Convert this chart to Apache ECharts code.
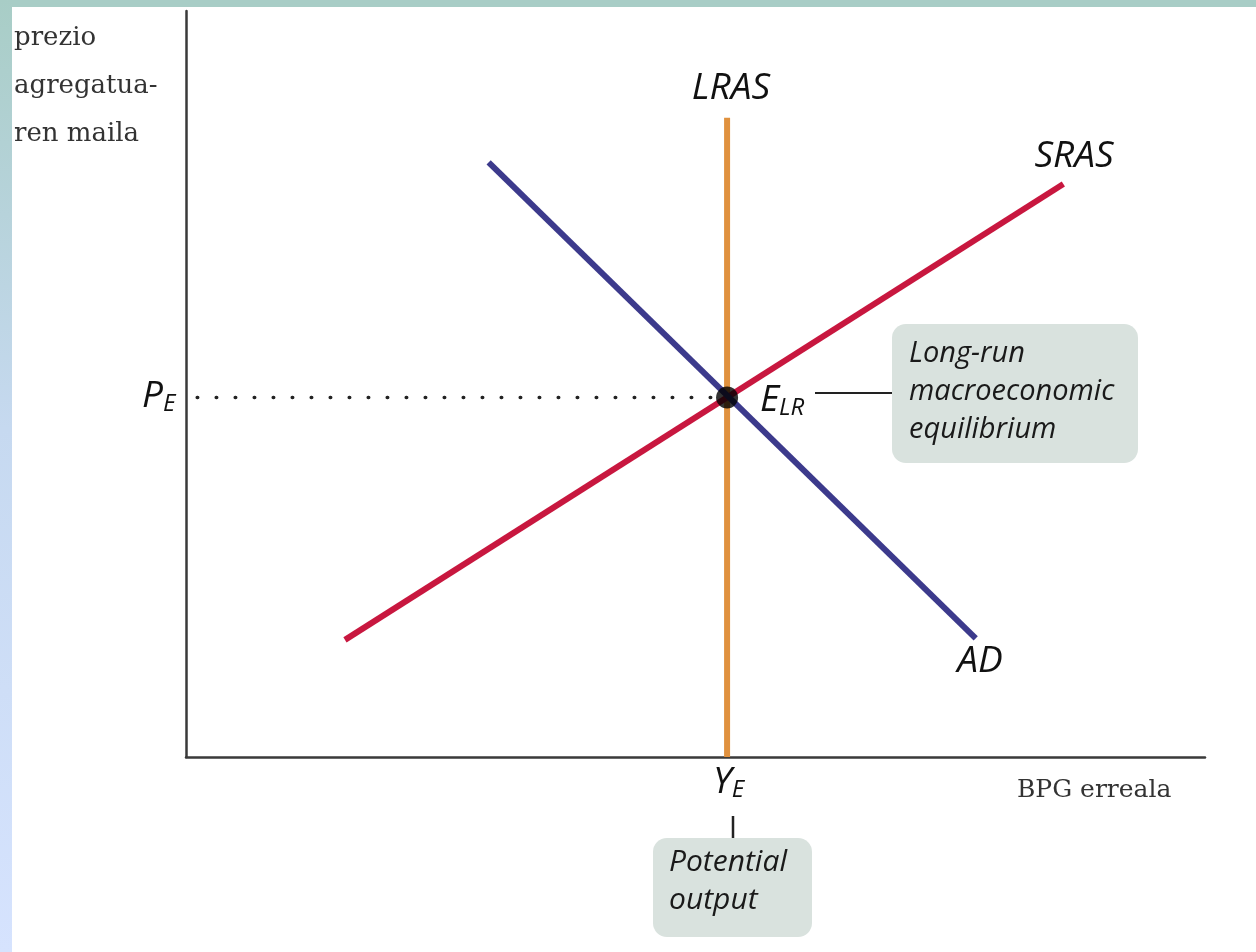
<!DOCTYPE html>
<html><head><meta charset="utf-8">
<script src="https://cdn.jsdelivr.net/npm/echarts@6/dist/echarts.min.js"></script>
<style>html,body{margin:0;padding:0;background:#fff}#c{width:1256px;height:952px}</style>
</head><body><div id="c"></div>
<script>
// Data (abstract units, x: output 0-100, y: price level 0-100)
const lrasX = 53.1;
const lrasTop = 85.7;
const srasPts = [[15.6, 15.7], [86.1, 76.8]];
const adPts = [[29.7, 79.7], [77.5, 15.9]];
const eqPoint = [53.1, 48.2];
const seriesNames = ['LRAS', 'SRAS', 'AD'];
const yAxisTitle = ['prezio', 'agregatua-', 'ren maila'];
const xAxisTitle = 'BPG erreala';
const eqNote = ['Long-run', 'macroeconomic', 'equilibrium'];
const potNote = ['Potential', 'output'];

const chart = echarts.init(document.getElementById('c'), null, {renderer: 'canvas'});
const ital = '"Open Sans", "Noto Sans", sans-serif';
const serif = '"DejaVu Serif", "Liberation Serif", serif';
const sub = (a, b) => ({
  rich: {a: {font: 'italic 37px ' + ital, fill: '#111'}, b: {font: 'italic 24px ' + ital, fill: '#111', padding: [16, 0, 0, 0]}},
  text: '{a|' + a + '}{b|' + b + '}'
});

const option = {
  animation: false,
  backgroundColor: '#ffffff',
  grid: {left: 186, right: 51, top: 11, bottom: 195, containLabel: false},
  xAxis: {type: 'value', min: 0, max: 100, axisLine: {show: true, onZero: false, lineStyle: {color: '#3a3a3a', width: 2.5}},
    axisTick: {show: false}, axisLabel: {show: false}, splitLine: {show: false}},
  yAxis: {type: 'value', min: 0, max: 100, axisLine: {show: true, onZero: false, lineStyle: {color: '#3a3a3a', width: 2.5}},
    axisTick: {show: false}, axisLabel: {show: false}, splitLine: {show: false}},
  series: [
    {type: 'line', name: 'dots', data: [[1.1, eqPoint[1]], eqPoint], symbol: 'none', z: 1,
      lineStyle: {color: '#222', width: 3.5, type: [0.5, 18.5], cap: 'round'}},
    {type: 'line', name: seriesNames[0], data: [[lrasX, 0], [lrasX, lrasTop]], symbol: 'none', z: 2,
      lineStyle: {color: '#e0913e', width: 6}},
    {type: 'line', name: seriesNames[1], data: srasPts, symbol: 'none', z: 3,
      lineStyle: {color: '#c8173f', width: 6}},
    {type: 'line', name: seriesNames[2], data: adPts, symbol: 'none', z: 4,
      lineStyle: {color: '#3c3a8c', width: 6}},
    {type: 'scatter', data: [eqPoint], symbolSize: 22, itemStyle: {color: '#000'}, z: 5}
  ],
  graphic: [
    {type: 'rect', shape: {x: 0, y: 0, width: 1256, height: 7}, style: {fill: '#a8cdc6'}, z: 10},
    {type: 'rect', shape: {x: 0, y: 0, width: 12, height: 952}, z: 10,
      style: {fill: new echarts.graphic.LinearGradient(0, 0, 0, 1, [{offset: 0, color: '#a8cdc6'}, {offset: 0.45, color: '#c6d9f0'}, {offset: 1, color: '#d6e3fe'}])}},
    {type: 'text', x: 14, y: 14, style: {text: yAxisTitle.join('\n'), font: '26px ' + serif, fill: '#333', lineHeight: 48}},
    {type: 'text', x: 1017, y: 790, style: {text: xAxisTitle, font: '25px ' + serif, fill: '#333', verticalAlign: 'middle'}},
    {type: 'text', x: 731, y: 88, style: {text: seriesNames[0], font: 'italic 37px ' + ital, fill: '#111', align: 'center', verticalAlign: 'middle'}},
    {type: 'text', x: 1074, y: 156, style: {text: seriesNames[1], font: 'italic 37px ' + ital, fill: '#111', align: 'center', verticalAlign: 'middle'}},
    {type: 'text', x: 980, y: 661, style: {text: seriesNames[2], font: 'italic 37px ' + ital, fill: '#111', align: 'center', verticalAlign: 'middle'}},
    {type: 'text', x: 142, y: 376, style: sub('P', 'E')},
    {type: 'text', x: 760, y: 380, style: sub('E', 'LR')},
    {type: 'text', x: 713, y: 762, style: sub('Y', 'E')},
    {type: 'line', shape: {x1: 815, y1: 393, x2: 892, y2: 393}, style: {stroke: '#222', lineWidth: 2}},
    {type: 'line', shape: {x1: 733, y1: 816, x2: 733, y2: 838}, style: {stroke: '#222', lineWidth: 2.5}},
    {type: 'rect', shape: {x: 892, y: 324, width: 246, height: 139, r: 14}, style: {fill: '#d9e2de'}},
    {type: 'text', x: 909, y: 335, style: {text: eqNote.join('\n'), font: 'italic 29px ' + ital, fill: '#1a1a1a', lineHeight: 38}},
    {type: 'rect', shape: {x: 653, y: 838, width: 159, height: 99, r: 14}, style: {fill: '#d9e2de'}},
    {type: 'text', x: 669, y: 843, style: {text: potNote.join('\n'), font: 'italic 30px ' + ital, fill: '#1a1a1a', lineHeight: 38}}
  ]
};
chart.setOption(option);
</script></body></html>
